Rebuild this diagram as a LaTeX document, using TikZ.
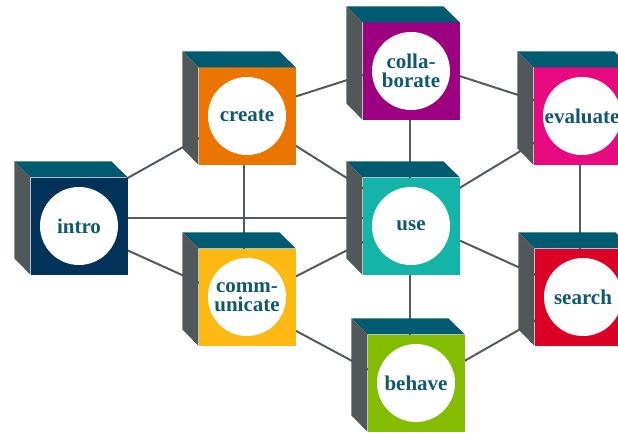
\documentclass[tikz,border=0pt]{standalone}
\usepackage{fontspec}
\setmainfont{Liberation Serif}
\usetikzlibrary{backgrounds}
\definecolor{dlcnavy}{RGB}{0,50,90}
\definecolor{dlcorange}{RGB}{234,118,0}
\definecolor{dlcpurple}{RGB}{156,0,128}
\definecolor{dlcteal}{RGB}{20,180,168}
\definecolor{dlcpink}{RGB}{232,9,128}
\definecolor{dlcyellow}{RGB}{253,185,19}
\definecolor{dlcred}{RGB}{220,0,38}
\definecolor{dlcgreen}{RGB}{132,189,0}
\definecolor{dlctop}{RGB}{0,90,112}
\definecolor{dlcside}{RGB}{80,88,90}
\definecolor{dlctext}{RGB}{16,88,110}
\definecolor{dlcline}{RGB}{85,90,92}
\tikzset{
  dblk/.style={rectangle, draw=none, inner sep=0pt, minimum size=97pt, align=center, text=dlctext,
               font=\bfseries\fontsize{21}{19}\selectfont,
               path picture={\fill[white] (path picture bounding box.center) circle (39pt);}},
  dlnk/.style={line width=2pt, dlcline},
}

\begin{document}
\begin{tikzpicture}[x=1pt,y=1pt]
        \useasboundingbox (0,0) rectangle (618,432);
        \node[dblk, fill=dlcnavy](intro) at (79,206){intro};
        \node[dblk, fill=dlcorange](create) at (247,316){create};
        \node[dblk, fill=dlcpurple](collab) at (411,361){colla-\\borate};
        \node[dblk, fill=dlcteal](use) at (411,206){use};
        \node[dblk, fill=dlcpink](evaluate) at (582,316){evaluate};
        \node[dblk, fill=dlcyellow](comm) at (247,135){comm-\\unicate};
        \node[dblk, fill=dlcred](search) at (583,135){search};
        \node[dblk, fill=dlcgreen](behave) at (416,49){behave};
        \foreach \c in {intro,create,collab,use,evaluate,comm,search,behave}{
            \fill[dlctop](\c.north west)--++(-16,16)--++(97,0)--(\c.north east)--cycle;
            \fill[dlcside](\c.north west)--++(-16,16)--++(0,-97)--(\c.south west)--cycle;
        }
        \coordinate (intro-c) at (56,214);\coordinate (create-c) at (244,319);
        \coordinate (collab-c) at (410,372);\coordinate (use-c) at (410,214);
        \coordinate (evaluate-c) at (580,317);\coordinate (comm-c) at (244,129);
        \coordinate (search-c) at (580,137);\coordinate (behave-c) at (410,40);
        \begin{scope}[on background layer]
            \draw[dlnk](intro-c)--(create-c);\draw[dlnk](intro-c)--(use-c);\draw[dlnk](intro-c)--(comm-c);
            \draw[dlnk](create-c)--(collab-c);\draw[dlnk](create-c)--(use-c);\draw[dlnk](create-c)--(comm-c);
            \draw[dlnk](collab-c)--(evaluate-c);\draw[dlnk](collab-c)--(use-c);
            \draw[dlnk](evaluate-c)--(use-c);\draw[dlnk](evaluate-c)--(search-c);
            \draw[dlnk](comm-c)--(use-c);\draw[dlnk](use-c)--(search-c);\draw[dlnk](use-c)--(behave-c);
            \draw[dlnk](comm-c)--(behave-c);\draw[dlnk](behave-c)--(search-c);
        \end{scope}
    \end{tikzpicture}
\end{document}
